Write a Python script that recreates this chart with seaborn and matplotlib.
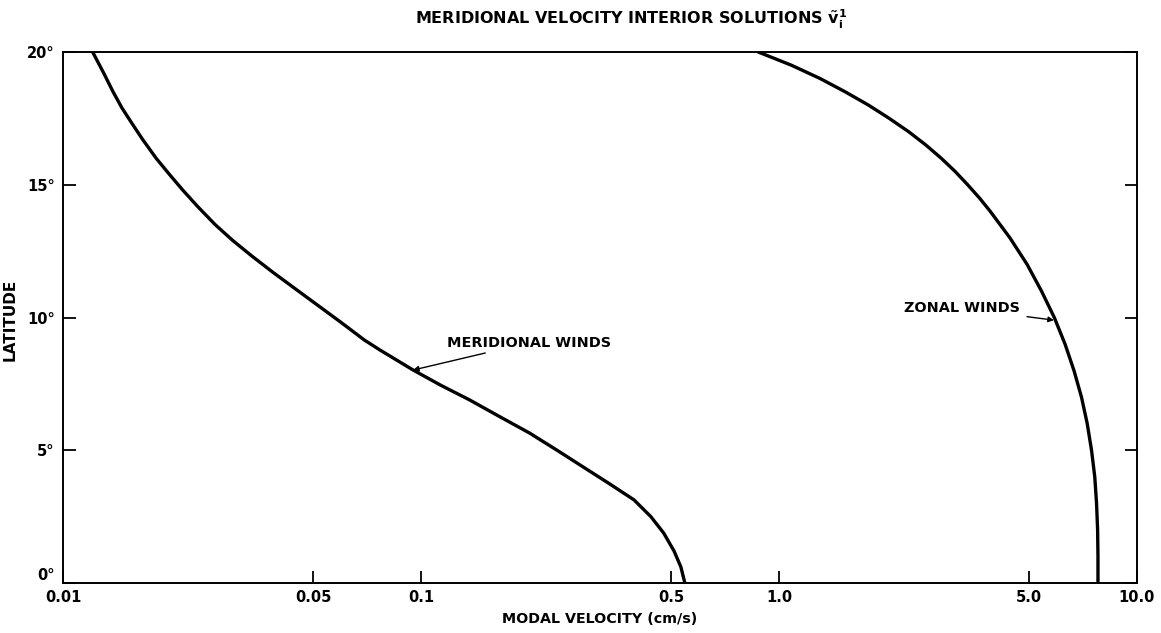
import numpy as np
import pandas as pd
import matplotlib
matplotlib.use("Agg")
import matplotlib.pyplot as plt
import seaborn as sns

# Data (latitude in degrees, modal velocity in cm/s)
merid_lat = [20.0, 19.2, 18.5, 17.9, 17.3, 16.7, 16.0, 15.4, 14.8, 14.2, 13.5, 12.9,
             12.3, 11.7, 11.0, 10.4, 9.8, 9.15, 8.78, 8.02, 7.45, 6.9, 6.25, 5.65,
             5.0, 4.37, 3.75, 3.13, 2.5, 1.88, 1.2, 0.6, 0.0]
merid_vel = [0.0121, 0.0130, 0.0138, 0.0146, 0.0156, 0.0167, 0.0182, 0.0198, 0.0216,
             0.0237, 0.0266, 0.0298, 0.0338, 0.0386, 0.0454, 0.0522, 0.0600, 0.0695,
             0.0767, 0.0951, 0.1135, 0.1365, 0.1667, 0.2009, 0.2399, 0.2838, 0.3350,
             0.3936, 0.4385, 0.4764, 0.5093, 0.5321, 0.5458]

zonal_lat = [20.0, 19.5, 19.0, 18.5, 18.0, 17.5, 17.0, 16.5, 16.0, 15.5, 15.0, 14.5,
             14.0, 13.0, 12.0, 11.0, 10.0, 9.0, 8.0, 7.0, 6.0, 5.0, 4.0, 3.0, 2.0, 1.0, 0.0]
zonal_vel = [0.875, 1.084, 1.303, 1.531, 1.778, 2.032, 2.301, 2.570, 2.838, 3.105,
             3.365, 3.631, 3.890, 4.416, 4.932, 5.408, 5.875, 6.295, 6.668, 6.998,
             7.261, 7.464, 7.621, 7.709, 7.762, 7.780, 7.780]

x_ticks = [0.01, 0.05, 0.1, 0.5, 1.0, 5.0, 10.0]
x_tick_labels = ["0.01", "0.05", "0.1", "0.5", "1.0", "5.0", "10.0"]
y_ticks = [0, 5, 10, 15, 20]
y_tick_labels = ["0°", "5°", "10°", "15°", "20°"]

sns.set_style("white")
plt.rcParams['font.family'] = ['DejaVu Sans']
plt.rcParams['text.color'] = 'black'
plt.rcParams['axes.labelcolor'] = 'black'
plt.rcParams['xtick.color'] = 'black'
plt.rcParams['ytick.color'] = 'black'

df = pd.concat([
    pd.DataFrame({"vel": merid_vel, "lat": merid_lat, "series": "Meridional"}),
    pd.DataFrame({"vel": zonal_vel, "lat": zonal_lat, "series": "Zonal"}),
], ignore_index=True)

fig = plt.figure(figsize=(11.61, 6.33), dpi=100)
ax = fig.add_axes([63/1161, 50/633, (1137-63)/1161, (583-52)/633])

sns.lineplot(data=df, x="vel", y="lat", units="series", estimator=None, sort=False,
             color="black", linewidth=2.4, ax=ax, legend=False)

ax.set_xscale("log")
ax.set_xlim(0.01, 10.0)
ax.set_ylim(0, 20)
ax.set_xticks(x_ticks)
ax.set_xticklabels(x_tick_labels, fontsize=10.5, fontweight="bold", color="black")
ax.xaxis.set_minor_locator(matplotlib.ticker.NullLocator())
ax.set_yticks(y_ticks)
ax.set_yticklabels(y_tick_labels, fontsize=10.5, fontweight="bold", color="black")
ax.get_yticklabels()[0].set_va("bottom")

ax.tick_params(axis="x", direction="in", length=9, width=1.3, pad=5, bottom=True, top=False)
ax.tick_params(axis="y", direction="in", length=9, width=1.3, pad=6, left=True, right=True)

for s in ax.spines.values():
    s.set_color("black")
    s.set_linewidth(1.4)

ax.set_xlabel("MODAL VELOCITY (cm/s)", fontsize=10.3, fontweight="bold", labelpad=5)
ax.set_ylabel("LATITUDE", fontsize=11, fontweight="bold")
ax.yaxis.set_label_coords((18 - 63) / 1074, 0.495)

fig.text(631/1161, 1 - 19/633, r"MERIDIONAL VELOCITY INTERIOR SOLUTIONS $\mathbf{\tilde{v}_i^1}$",
         ha="center", va="center", fontsize=11.5, fontweight="bold", color="black")

ax.annotate("MERIDIONAL WINDS", xy=(0.095, 8.02), xytext=(0.118, 9.05),
            fontsize=10.4, fontweight="bold", ha="left", va="center", color="black",
            arrowprops=dict(arrowstyle="-|>", color="black", lw=1.0, mutation_scale=8,
                            shrinkA=0, shrinkB=0))
ax.annotate("ZONAL WINDS", xy=(5.86, 9.9), xytext=(4.7, 10.35),
            fontsize=10.4, fontweight="bold", ha="right", va="center", color="black",
            arrowprops=dict(arrowstyle="-|>", color="black", lw=1.0, mutation_scale=8,
                            shrinkA=3, shrinkB=0))

fig.savefig("out.png", dpi=100)
